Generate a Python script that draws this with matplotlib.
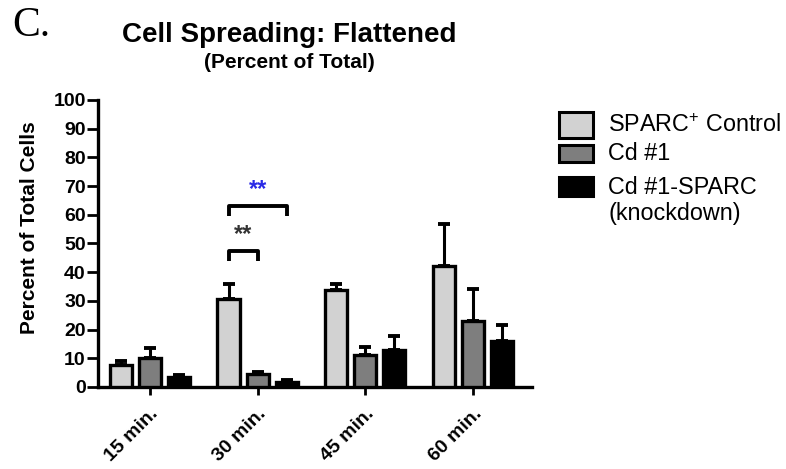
import numpy as np
import matplotlib
matplotlib.use('Agg')
import matplotlib.pyplot as plt
from matplotlib.patches import Rectangle

plt.rcParams['font.family'] = ['Liberation Sans', 'DejaVu Sans']
plt.rcParams['mathtext.fontset'] = 'custom'
plt.rcParams['mathtext.rm'] = 'Liberation Sans'

# Data: percent of cells flattened (mean, upper SEM)
time_points = ['15 min.', '30 min.', '45 min.', '60 min.']
series_names = ['SPARC$^{+}$ Control', 'Cd #1', 'Cd #1-SPARC']
sparc_ctrl = [7.8, 30.5, 33.8, 42.0]
sparc_ctrl_err = [1.4, 5.5, 2.2, 14.8]
cd1 = [10.0, 4.5, 11.2, 23.0]
cd1_err = [3.6, 0.6, 2.6, 11.2]
cd1_kd = [3.6, 1.8, 12.9, 16.1]
cd1_kd_err = [0.5, 0.6, 4.8, 5.5]
fill_colors = ['#d2d2d2', '#7e7e7e', '#000000']

fig = plt.figure(figsize=(7.86, 4.69), dpi=100)
ax = fig.add_axes([0.125, 0.175, 0.552, 0.612])

x = np.arange(len(time_points))
offsets = [-0.27, 0.0, 0.27]
width = 0.205
means = [sparc_ctrl, cd1, cd1_kd]
errs = [sparc_ctrl_err, cd1_err, cd1_kd_err]

for off, m, e, c in zip(offsets, means, errs, fill_colors):
    ax.errorbar(x + off, m, yerr=[np.zeros(len(m)), e], fmt='none',
                ecolor='black', elinewidth=2.2, capsize=4.5, capthick=2.8, zorder=2)
    ax.bar(x + off, m, width=width, color=c, edgecolor='black',
           linewidth=2.4, zorder=3)

# Significance brackets at 30 min
def bracket(x1, x2, y, h, label, color):
    ax.plot([x1, x1, x2, x2], [y - h, y, y, y - h], color='black',
            lw=2.8, solid_capstyle='butt', zorder=4)
    ax.text((x1 + x2) / 2, y + 5.8, label, ha='center', va='center',
            fontsize=17, fontweight='bold', color=color)

bracket(1 - 0.27, 1.0, 47.2, 3.2, '**', '#333333')
bracket(1 - 0.27, 1.27, 63.0, 3.4, '**', '#2a2ae6')

ax.set_ylim(0, 100)
ax.set_xlim(-0.48, 3.55)
ax.set_yticks(np.arange(0, 101, 10))
ax.set_xticks(x)
ax.set_xticklabels(time_points, rotation=45, ha='right', rotation_mode='anchor',
                   fontsize=14, fontweight='bold')
for lbl in ax.get_yticklabels():
    lbl.set_fontweight('bold')
    lbl.set_fontsize(14)
ax.tick_params(axis='y', direction='out', length=8, width=2, pad=1)
ax.tick_params(axis='x', direction='out', length=6, width=2, pad=7)
for s in ['top', 'right']:
    ax.spines[s].set_visible(False)
for s in ['left', 'bottom']:
    ax.spines[s].set_linewidth(2.4)

fig.text(30 / 786, 1 - 228 / 469, 'Percent of Total Cells', rotation=90,
         fontsize=15, fontweight='bold', ha='center', va='center')

fig.text(0.016, 0.945, 'C.', fontsize=30, family='Liberation Serif', va='center')
fig.text(0.368, 0.925, 'Cell Spreading: Flattened', fontsize=20, fontweight='bold',
         ha='center', va='center')
fig.text(0.368, 0.866, '(Percent of Total)', fontsize=15, fontweight='bold',
         ha='center', va='center')

# Legend drawn by hand so the box sizes and spacing can vary
legend_rows = [(112, 26, 125), (145, 17, 153), (177, 19, 187)]
for (top, h, ty), name, c in zip(legend_rows, series_names, fill_colors):
    fig.patches.append(Rectangle((559 / 786, 1 - (top + h) / 469), 34 / 786, h / 469,
                                 transform=fig.transFigure, facecolor=c,
                                 edgecolor='black', linewidth=2.2))
    fig.text(608 / 786, 1 - ty / 469, name, fontsize=16.8, va='center')
fig.text(608 / 786, 1 - 213 / 469, '(knockdown)', fontsize=16.8, va='center')

fig.savefig('out.png', dpi=100)
